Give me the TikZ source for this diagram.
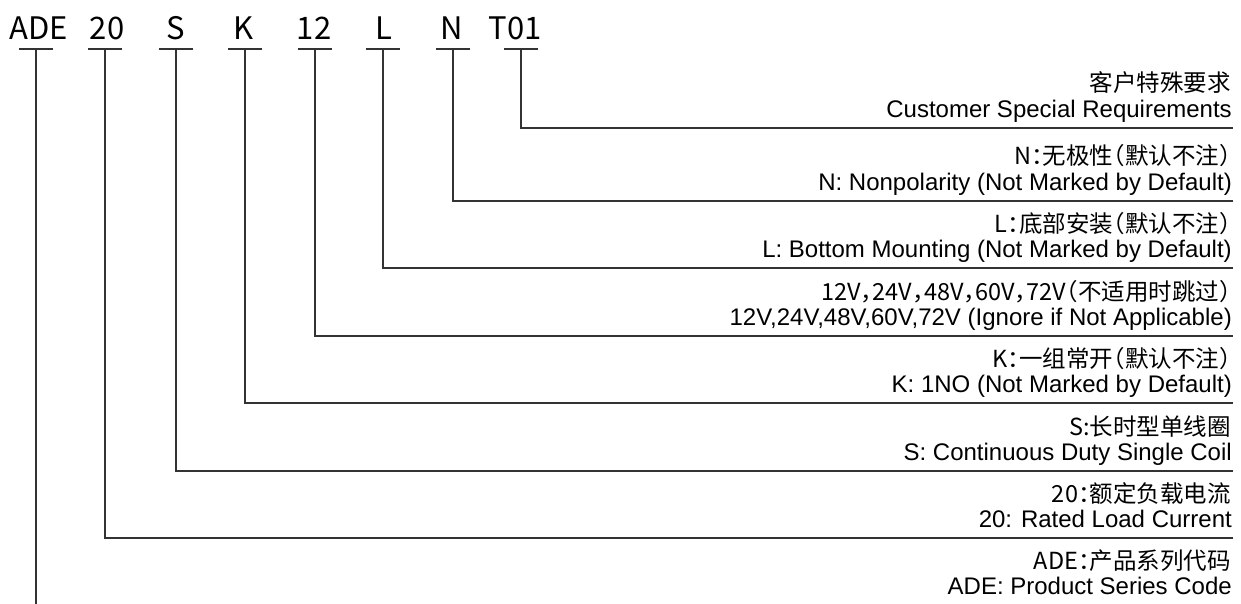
\documentclass[tikz,border=0pt]{standalone}
\usepackage{fontspec}
\setmainfont{Liberation Sans}
\newfontfamily\cjk{Noto Sans CJK SC}[CharacterWidth=AlternateHalf]
\definecolor{ln}{HTML}{333333}
\begin{document}
\begin{tikzpicture}[x=1pt,y=-1pt,
  code/.style={font=\cjk\fontsize{31}{31}\selectfont, anchor=base, inner sep=0pt},
  zhlabel/.style={font=\cjk\fontsize{23.5}{24}\selectfont, anchor=base east, inner sep=0pt},
  enlabel/.style={font=\fontsize{24}{24}\selectfont, anchor=base east, inner sep=0pt},
  lead/.style={draw=ln, line width=1.6pt},
  tick/.style={draw=ln, line width=1.5pt},
]
\useasboundingbox (0,0) rectangle (1241,604);

% header codes
\node[code] (hADE) at (39,40) {ADE};
\node[code] (h20)  at (107,40) {20};
\node[code] (hS)   at (176,40) {S};
\node[code] (hK)   at (244,40) {K};
\node[code] (h12)  at (314,40) {12};
\node[code] (hL)   at (384,40) {L};
\node[code] (hN)   at (452,40) {N};
\node[code] (hT)   at (515,40) {T01};

% tick points
\coordinate (tADE) at (36,49);
\coordinate (t20)  at (105,49);
\coordinate (tS)   at (176,49);
\coordinate (tK)   at (245,49);
\coordinate (t12)  at (315,49);
\coordinate (tL)   at (383,49);
\coordinate (tN)   at (453,49);
\coordinate (tT)   at (521,49);

\foreach \t in {tADE,t20,tS,tK,t12,tL,tN,tT}
  \draw[tick] ([xshift=-17pt]\t) -- ([xshift=17pt]\t);

% line ends
\coordinate (eT)  at (1233,128);
\coordinate (eN)  at (1233,201);
\coordinate (eL)  at (1233,268);
\coordinate (e12) at (1233,336);
\coordinate (eK)  at (1233,403);
\coordinate (eS)  at (1233,471);
\coordinate (e20) at (1233,538);
\coordinate (eADE) at (36,604);

\draw[lead] (tT) |- (eT);
\draw[lead] (tN) |- (eN);
\draw[lead] (tL) |- (eL);
\draw[lead] (t12) |- (e12);
\draw[lead] (tK) |- (eK);
\draw[lead] (tS) |- (eS);
\draw[lead] (t20) |- (e20);
\draw[lead] (tADE) -- (eADE);

% labels
\node[zhlabel] (zT) at (1231,92) {客户特殊要求};
\node[enlabel] (nT) at (1232,118) {Customer Special Requirements};

\node[zhlabel] (zN) at (1231,165) {N：无极性（默认不注）};
\node[enlabel] (nN) at (1232,190) {N: Nonpolarity (Not Marked by Default)};

\node[zhlabel] (zL) at (1231,232) {L：底部安装（默认不注）};
\node[enlabel] (nL) at (1232,257) {L: Bottom Mounting (Not Marked by Default)};

\node[zhlabel] (z12) at (1231,300) {12V，24V，48V，60V，72V（不适用时跳过）};
\node[enlabel] (n12) at (1232,325) {12V,24V,48V,60V,72V (Ignore if Not Applicable)};

\node[zhlabel] (zK) at (1231,367) {K：一组常开（默认不注）};
\node[enlabel] (nK) at (1232,392) {K: 1NO (Not Marked by Default)};

\node[zhlabel] (zS) at (1231,435) {S:长时型单线圈};
\node[enlabel] (nS) at (1232,460) {S: Continuous Duty Single Coil};

\node[zhlabel] (z20) at (1231,502) {20：额定负载电流};
\node[enlabel] (n20) at (1232,527) {20: Rated Load Current};

\node[zhlabel] (zADE) at (1231,569) {ADE：产品系列代码};
\node[enlabel] (nADE) at (1232,594) {ADE: Product Series Code};
\end{tikzpicture}
\end{document}
